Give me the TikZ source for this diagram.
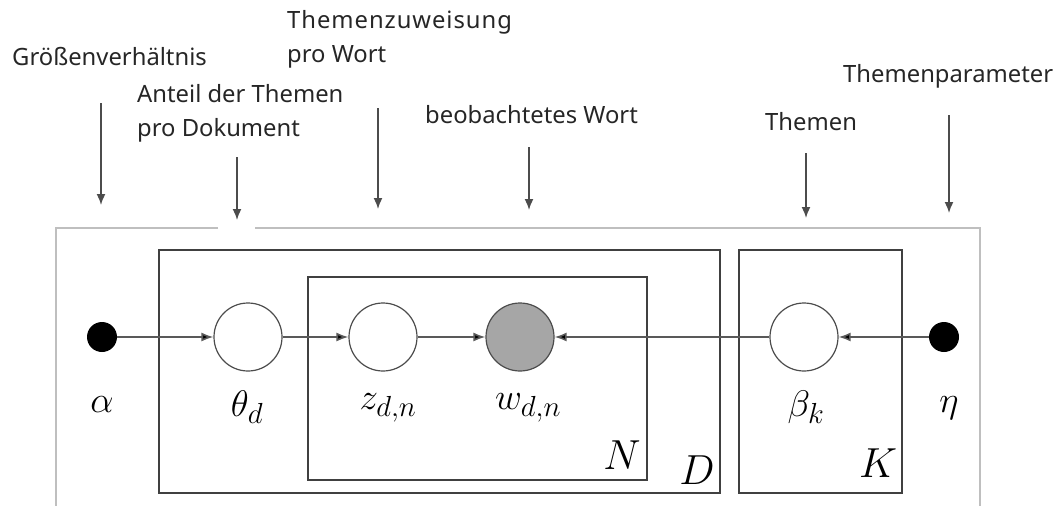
\RequirePackage{fix-cm}
\documentclass[tikz,border=0pt]{standalone}
\usepackage{fontspec}
\setmainfont{Noto Sans}
\DeclareMathSizes{37}{37}{29}{23}
\DeclareMathSizes{42}{42}{32}{26}
\usetikzlibrary{arrows.meta,positioning}

\begin{document}
\begin{tikzpicture}[%
    x=1pt, y=-1pt,
    >={Latex[length=12pt,width=9pt]},
    hyper/.style={circle, fill=black, minimum size=30pt, inner sep=0pt},
    latent/.style={circle, draw=black!70, line width=1.2pt, fill=white,
      minimum size=68pt, inner sep=0pt},
    observed/.style={latent, fill=black!35},
    plate/.style={draw=black!75, line width=2pt},
    frame/.style={draw=black!25, line width=1.2pt},
    varlabel/.style={font=\fontsize{37}{44}\selectfont},
    platelabel/.style={font=\fontsize{42}{50}\selectfont},
    note/.style={font=\fontsize{23.8}{34}\selectfont, align=left, anchor=west,
      text=black!85, inner sep=0pt},
    link/.style={->, draw=black!65, line width=1.6pt},
    pointer/.style={->, >={Latex[length=11pt,width=9pt]}, draw=black!70,
      line width=1.6pt},
  ]
    \useasboundingbox (0,0) rectangle (1060,506);

    % outer frame, open where the arrow to theta passes
    \draw[frame] (218,228) -- (56,228) -- (56,506);
    \draw[frame] (255,228) -- (980,228) -- (980,506);

    % plates
    \draw[plate] (159,250) rectangle (720,493);
    \draw[plate] (308,277) rectangle (647,480);
    \draw[plate] (739,250) rectangle (902,493);
    \node[platelabel] (Nlab) at (622,455) {$N$};
    \node[platelabel] (Dlab) at (697,470) {$D$};
    \node[platelabel] (Klab) at (878,463) {$K$};

    % variables
    \node[hyper]    (alpha) at (102,337) {};
    \node[latent]   (theta) at (248,337) {};
    \node[latent]   (z)     at (383,337) {};
    \node[observed] (w)     at (520,337) {};
    \node[latent]   (beta)  at (804,337) {};
    \node[hyper]    (eta)   at (944,337) {};

    \node[varlabel] (alphalab) at (102,405) {$\alpha$};
    \node[varlabel] (thetalab) at (247,407) {$\theta_d$};
    \node[varlabel] (zlab)     at (388,408) {$z_{d,n}$};
    \node[varlabel] (wlab)     at (528,408) {$w_{d,n}$};
    \node[varlabel] (betalab)  at (806,407) {$\beta_k$};
    \node[varlabel] (etalab)   at (949,408) {$\eta$};

    \path[link] (alpha) edge (theta)
                (theta) edge (z)
                (z)     edge (w)
                (beta)  edge (w)
                (eta)   edge (beta);

    % annotations
    \node[note] (ratio)  at (12,57)  {Größenverhältnis};
    \node[note] (share)  at (137,113) {Anteil der Themen\\pro Dokument};
    \node[note] (assign) at (287,39)
      {{\addfontfeature{LetterSpace=4}Themenzuweisung}\\pro Wort};
    \node[note] (word)   at (425,115) {beobachtetes Wort};
    \node[note] (topics) at (765,122) {Themen};
    \node[note] (param)  at (843,76)  {Themenparameter};

    \coordinate (ratio top)  at (101,103);
    \coordinate (ratio tip)  at (101,205);
    \coordinate (share top)  at (237,157);
    \coordinate (share tip)  at (237,220);
    \coordinate (assign top) at (378,108);
    \coordinate (assign tip) at (378,209);
    \coordinate (word top)   at (529,147);
    \coordinate (word tip)   at (529,210);
    \coordinate (topics top) at (806,153);
    \coordinate (topics tip) at (806,218);
    \coordinate (param top)  at (949,115);
    \coordinate (param tip)  at (949,213);

    \foreach \k in {ratio,share,assign,word,topics,param}
      \draw[pointer] (\k\space top) -- (\k\space tip);
  \end{tikzpicture}
\end{document}
